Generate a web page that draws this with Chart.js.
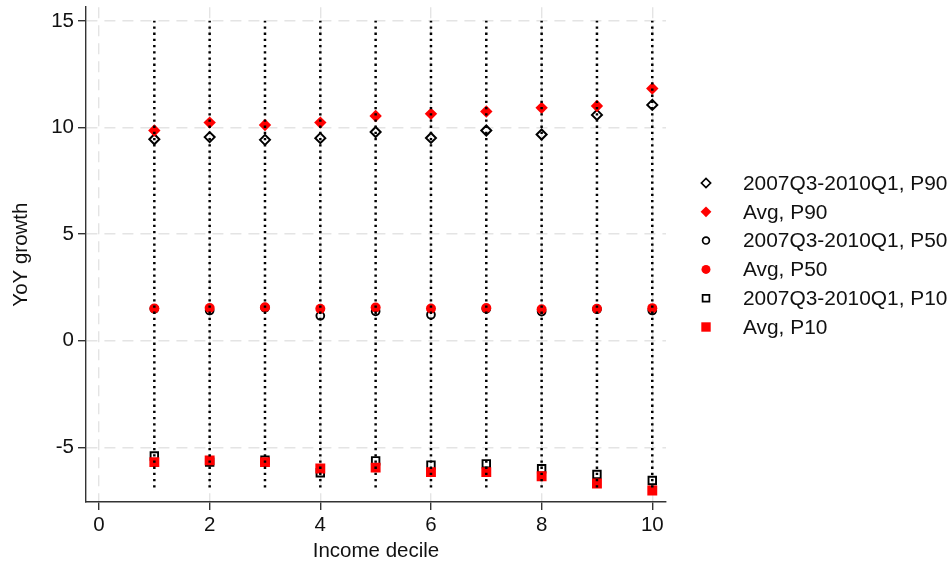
<!DOCTYPE html>
<html>
<head>
<meta charset="utf-8">
<script src="https://cdn.jsdelivr.net/npm/chart.js@4.4.1/dist/chart.umd.min.js"></script>
<style>
  html, body { margin: 0; padding: 0; background: #ffffff; }
  canvas { display: block; }
</style>
</head>
<body>
<canvas id="chart" width="952" height="565"></canvas>
<script>
// Income deciles on the x axis
const deciles = [1, 2, 3, 4, 5, 6, 7, 8, 9, 10];

// YoY growth by decile: crisis window (2007Q3-2010Q1) and long-run average
const p90Crisis = [9.45, 9.55, 9.42, 9.50, 9.79, 9.51, 9.86, 9.67, 10.59, 11.06];
const p90Avg    = [9.86, 10.23, 10.12, 10.23, 10.54, 10.64, 10.75, 10.92, 11.01, 11.83];
const p50Crisis = [1.50, 1.42, 1.55, 1.17, 1.38, 1.22, 1.50, 1.37, 1.48, 1.42];
const p50Avg    = [1.51, 1.54, 1.57, 1.50, 1.56, 1.51, 1.54, 1.48, 1.50, 1.53];
const p10Crisis = [-5.40, -5.69, -5.60, -6.19, -5.63, -5.83, -5.77, -6.00, -6.27, -6.55];
const p10Avg    = [-5.69, -5.61, -5.69, -5.99, -5.95, -6.16, -6.16, -6.35, -6.69, -7.02];

// Vertical reference spikes at each decile
const spikeLow = -6.88;
const spikeHigh = 15;

// Axis ticks
const xTicks = [0, 2, 4, 6, 8, 10];
const yTicks = [-5, 0, 5, 10, 15];

const FONT = "'Liberation Sans', Arial, 'DejaVu Sans', sans-serif";
const RED = '#ff0000';
const INK = '#111111';

const pts = (ys) => deciles.map((d, i) => ({ x: d, y: ys[i] }));

const spikeData = [];
deciles.forEach(d => {
  spikeData.push({ x: d, y: spikeLow }, { x: d, y: spikeHigh }, { x: d, y: null });
});

const datasets = [
  { label: '2007Q3-2010Q1, P90', data: pts(p90Crisis), pointStyle: 'rectRot', pointRadius: 5,
    backgroundColor: 'rgba(0,0,0,0)', borderColor: '#000', pointBorderWidth: 2, order: 2,
    legend: { shape: 'diamond', r: 4.6, fill: null, stroke: '#000' } },
  { label: 'Avg, P90', data: pts(p90Avg), pointStyle: 'rectRot', pointRadius: 6.2,
    backgroundColor: RED, borderColor: RED, pointBorderWidth: 0, order: 1,
    legend: { shape: 'diamond', r: 5.4, fill: RED, stroke: null } },
  { label: '2007Q3-2010Q1, P50', data: pts(p50Crisis), pointStyle: 'circle', pointRadius: 3.9,
    backgroundColor: 'rgba(0,0,0,0)', borderColor: '#000', pointBorderWidth: 1.9, order: 2,
    legend: { shape: 'circle', r: 3.4, fill: null, stroke: '#000' } },
  { label: 'Avg, P50', data: pts(p50Avg), pointStyle: 'circle', pointRadius: 5,
    backgroundColor: RED, borderColor: RED, pointBorderWidth: 0, order: 1,
    legend: { shape: 'circle', r: 4.5, fill: RED, stroke: null } },
  { label: '2007Q3-2010Q1, P10', data: pts(p10Crisis), pointStyle: 'rect', pointRadius: 5.3,
    backgroundColor: 'rgba(0,0,0,0)', borderColor: '#000', pointBorderWidth: 1.9, order: 2,
    legend: { shape: 'square', r: 3.4, fill: null, stroke: '#000' } },
  { label: 'Avg, P10', data: pts(p10Avg), pointStyle: 'rect', pointRadius: 7,
    backgroundColor: RED, borderColor: RED, pointBorderWidth: 0, order: 1,
    legend: { shape: 'square', r: 4.7, fill: RED, stroke: null } },
  { label: 'spikes', data: spikeData, showLine: true, spanGaps: false, pointRadius: 0,
    borderColor: '#000', borderWidth: 2.5, borderDash: [2.3, 3.9], borderCapStyle: 'butt',
    order: 0 }
];

// Legend drawn to the right of the plot area
const sideLegend = {
  id: 'sideLegend',
  afterDraw(chart) {
    const ctx = chart.ctx;
    const items = chart.data.datasets.filter(ds => ds.legend);
    ctx.save();
    items.forEach((ds, i) => {
      const m = ds.legend;
      const x = 706;
      const y = 183 + i * 28.8;
      ctx.beginPath();
      if (m.shape === 'diamond') {
        ctx.moveTo(x - m.r, y); ctx.lineTo(x, y - m.r);
        ctx.lineTo(x + m.r, y); ctx.lineTo(x, y + m.r);
        ctx.closePath();
      } else if (m.shape === 'circle') {
        ctx.arc(x, y, m.r, 0, Math.PI * 2);
      } else {
        ctx.rect(x - m.r, y - m.r, 2 * m.r, 2 * m.r);
      }
      if (m.fill) { ctx.fillStyle = m.fill; ctx.fill(); }
      if (m.stroke) { ctx.lineWidth = 1.7; ctx.strokeStyle = m.stroke; ctx.stroke(); }
      ctx.fillStyle = INK;
      ctx.font = '20.9px ' + FONT;
      ctx.textAlign = 'left';
      ctx.textBaseline = 'middle';
      ctx.fillText(ds.label, 743, y + 1);
    });
    ctx.restore();
  }
};

// Fixed axis box sizes so the plot area sits where intended
function fixY(s) {
  s.width = 86;
  s.paddingTop = 0; s.paddingBottom = 0;
}
function fixX(s) {
  s.height = 63;
  s.paddingLeft = 0; s.paddingRight = 0;
}

new Chart(document.getElementById('chart'), {
  type: 'scatter',
  data: { datasets },
  plugins: [sideLegend],
  options: {
    responsive: false,
    animation: false,
    events: [],
    layout: { padding: { top: 7, right: 286, bottom: 0, left: 0 } },
    plugins: { legend: { display: false }, tooltip: { enabled: false } },
    scales: {
      x: {
        type: 'linear',
        min: -0.235,
        max: 10.248,
        afterBuildTicks: (s) => { s.ticks = xTicks.map(v => ({ value: v })); },
        afterFit: fixX,
        ticks: { color: INK, font: { family: FONT, size: 20.5 }, padding: 3, maxRotation: 0 },
        grid: { color: '#e4e4e4', lineWidth: 1.4, tickLength: 8, tickColor: '#333', tickWidth: 1.4, tickBorderDash: [] },
        border: { display: true, color: '#333', width: 1.4, dash: [11, 7] },
        title: { display: true, text: 'Income decile', color: INK,
                 font: { family: FONT, size: 20.5 }, padding: { top: 0, bottom: 1 } }
      },
      y: {
        type: 'linear',
        min: -7.56,
        max: 15.64,
        afterBuildTicks: (s) => { s.ticks = yTicks.map(v => ({ value: v })); },
        afterFit: fixY,
        ticks: { color: INK, font: { family: FONT, size: 20.5 }, padding: 4 },
        grid: { color: '#e4e4e4', lineWidth: 1.4, tickLength: 8, tickColor: '#333', tickWidth: 1.4, tickBorderDash: [] },
        border: { display: true, color: '#333', width: 1.4, dash: [11, 7] },
        title: { display: true, text: 'YoY growth', color: INK,
                 font: { family: FONT, size: 20.5 }, padding: { top: 8.7, bottom: 0 } }
      }
    }
  }
});
</script>
</body>
</html>
